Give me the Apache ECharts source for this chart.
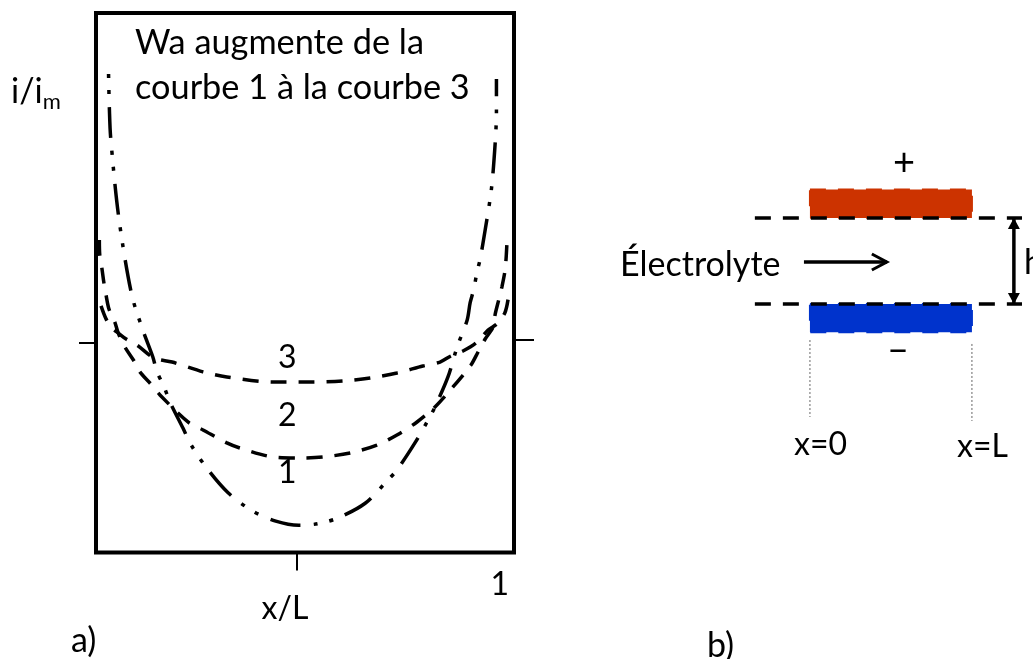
<!DOCTYPE html>
<html><head><meta charset="utf-8">
<style>html,body{margin:0;padding:0;background:#fff}#c{width:1033px;height:659px}</style>
<script src="https://cdn.jsdelivr.net/npm/echarts@6/dist/echarts.min.js"></script>
</head><body><div id="c"></div>
<script>
// Courbe 1 : [x/L, i/im]
const curve1 = [[.030,2.284],[.032,2.12],[.035,1.983],[.054,1.606],[.085,1.234],[.112,1.062],[.136,.933],[.146,.862],[.163,.790],[.177,.718],[.208,.594],[.227,.515],[.266,.400],[.316,.285],[.373,.200],[.430,.150],[.485,.130],[.530,.137],[.579,.165],[.644,.235],[.696,.341],[.720,.394],[.763,.523],[.794,.630],[.811,.695],[.842,.838],[.864,.981],[.888,1.110],[.895,1.191],[.904,1.258],[.911,1.334],[.919,1.401],[.931,1.539],[.946,1.735],[.955,1.955],[.958,2.103],[.958,2.260]];
const curve2 = [[.008,1.492],[.009,1.420],[.014,1.358],[.019,1.286],[.024,1.229],[.031,1.162],[.045,1.100],[.053,1.048],[.069,.981],[.091,.914],[.105,.862],[.129,.809],[.153,.752],[.220,.623],[.256,.585],[.313,.523],[.344,.499],[.423,.456],[.488,.451],[.543,.456],[.608,.475],[.672,.513],[.720,.561],[.768,.623],[.811,.695],[.854,.790],[.897,.895],[.914,.957],[.931,1.019],[.950,1.076],[.955,1.138],[.964,1.210],[.971,1.267],[.978,1.339],[.981,1.401],[.983,1.473]];
const curve3 = [[.012,1.177],[.024,1.115],[.038,1.072],[.053,1.048],[.072,1.019],[.098,.990],[.139,.928],[.182,.909],[.256,.862],[.313,.838],[.423,.814],[.512,.814],[.591,.819],[.656,.833],[.720,.857],[.782,.890],[.823,.909],[.849,.938],[.878,.962],[.909,1.000],[.938,1.062],[.959,1.091],[.978,1.143],[.986,1.210]];
const tickX = [0.48];
const labelX = [1];
const tickYLeft = [1];
const tickYRight = [1.014];
const yMax = 2.575;

// Schéma b) : x en unités de L, y en unités de h
const electrodes = [[0,1,1,1.33,'#CC3300'],[0,-.33,1,0,'#0033CC']];
const planeTop = [[-.34,1],[1.309,1]];
const planeBottom = [[-.34,0],[1.309,0]];
const flowArrow = [[-.037,.488,.481,.488]];
const gapArrow = [[1.259,0,1.259,1]];
const guideLeft = [[0,-.419],[0,-1.314]];
const guideRight = [[1,-.465],[1,-1.36]];

const font = 'Lato';
const T = (text, x, y, size, extra) => ({type:'text', x, y, style:Object.assign({text, fill:'#000', font:`${size||34}px ${font}`, textVerticalAlign:'middle'}, extra||{})});
const dashStyle = {color:'#000', width:3.5, type:[16,12]};
const chain = {color:'#000', width:3.5, type:[31,13,4,12,4,13], dashOffset:44};
const curve = (data, lineStyle) => ({type:'line', data, xAxisIndex:0, yAxisIndex:0, smooth:.3, showSymbol:false, symbol:'none', clip:false, lineStyle, silent:true});
const guide = data => ({type:'line', data, xAxisIndex:1, yAxisIndex:2, showSymbol:false, symbol:'none', clip:false, lineStyle:{color:'#666', width:1, type:[2,2]}, silent:true});
const plane = data => ({type:'line', data, xAxisIndex:1, yAxisIndex:2, showSymbol:false, symbol:'none', clip:false, z:5, lineStyle:{color:'#000', width:3.5, type:[16,12]}, silent:true});

const chart = echarts.init(document.getElementById('c'), null, {renderer:'canvas'});
chart.setOption({
  animation:false,
  backgroundColor:'#fff',
  grid:[
    {left:96, top:13, width:418, height:539.5, show:true, borderWidth:4, borderColor:'#000', backgroundColor:'transparent'},
    {left:600, top:140, width:433, height:350, show:false}
  ],
  xAxis:[
    {type:'value', gridIndex:0, min:0, max:1, splitLine:{show:false}, axisLine:{show:false},
     axisTick:{show:true, customValues:tickX, length:18, lineStyle:{color:'#000', width:2}},
     axisLabel:{show:true, customValues:labelX, formatter:v=>String(v), margin:16, align:'right', color:'#000', fontFamily:font, fontSize:32, padding:[0,5,0,0]},
     name:'x/L', nameLocation:'middle', nameGap:40, nameMoveOverlap:false, nameTextStyle:{color:'#000', fontFamily:font, fontSize:32, padding:[0,40,0,0]}},
    {type:'value', gridIndex:1, min:-1.296, max:1.377, show:false}
  ],
  yAxis:[
    {type:'value', gridIndex:0, min:0, max:yMax, position:'left', splitLine:{show:false}, axisLine:{show:false},
     axisTick:{show:true, customValues:tickYLeft, length:17, lineStyle:{color:'#000', width:2}}, axisLabel:{show:false}},
    {type:'value', gridIndex:0, min:0, max:yMax, position:'right', splitLine:{show:false}, axisLine:{show:false},
     axisTick:{show:true, customValues:tickYRight, length:20, lineStyle:{color:'#000', width:2}}, axisLabel:{show:false}},
    {type:'value', gridIndex:1, min:-2.163, max:1.907, show:false}
  ],
  series:[
    curve(curve1, chain), curve(curve2, dashStyle), curve(curve3, dashStyle),
    {type:'line', data:[], xAxisIndex:0, yAxisIndex:1},
    {type:'custom', xAxisIndex:1, yAxisIndex:2, data:electrodes, clip:false, z:3, silent:true,
     encode:{x:[0,2], y:[1,3]},
     renderItem:(p,api)=>{
       const a=api.coord([api.value(0),api.value(1)]), b=api.coord([api.value(2),api.value(3)]);
       const c=electrodes[p.dataIndex][4];
       return {type:'rect', shape:{x:a[0],y:b[1],width:b[0]-a[0],height:a[1]-b[1]},
         style:{fill:c, stroke:c, lineWidth:2, lineDash:[16,12]}};
     }},
    plane(planeTop), plane(planeBottom),
    guide(guideLeft), guide(guideRight),
    {type:'custom', xAxisIndex:1, yAxisIndex:2, data:flowArrow, clip:false, z:6, silent:true,
     encode:{x:[0,2], y:[1,3]},
     renderItem:(p,api)=>{
       const a=api.coord([api.value(0),api.value(1)]), b=api.coord([api.value(2),api.value(3)]);
       return {type:'group', children:[
         {type:'line', shape:{x1:a[0],y1:a[1],x2:b[0]-1,y2:b[1]}, style:{stroke:'#000',lineWidth:3.5}},
         {type:'polyline', shape:{points:[[b[0]-16,b[1]-8],[b[0]-1,b[1]],[b[0]-16,b[1]+8]]}, style:{stroke:'#000',lineWidth:3,fill:null}}
       ]};
     }},
    {type:'custom', xAxisIndex:1, yAxisIndex:2, data:gapArrow, clip:false, z:6, silent:true,
     encode:{x:[0,2], y:[1,3]},
     renderItem:(p,api)=>{
       const a=api.coord([api.value(0),api.value(1)]), b=api.coord([api.value(2),api.value(3)]);
       return {type:'group', children:[
         {type:'line', shape:{x1:a[0],y1:a[1],x2:b[0],y2:b[1]}, style:{stroke:'#000',lineWidth:3.5}},
         {type:'polygon', shape:{points:[[b[0],b[1]],[b[0]-6,b[1]+11],[b[0]+6,b[1]+11]]}, style:{fill:'#000'}},
         {type:'polygon', shape:{points:[[a[0],a[1]],[a[0]-6,a[1]-11],[a[0]+6,a[1]-11]]}, style:{fill:'#000'}}
       ]};
     }}
  ],
  graphic:{elements:[
    T('Wa augmente de la',135,43,34.3),
    T('courbe 1 à la courbe 3',135,88,34.3),
    {type:'text', x:11, y:92, style:{rich:{a:{fontFamily:font,fontSize:34,fill:'#000'},b:{fontFamily:font,fontSize:22,fill:'#000',padding:[20,0,0,0],verticalAlign:'bottom'}}, text:'{a|i/i}{b|m}', textVerticalAlign:'middle'}},
    T('3',278,358,32), T('2',278,416,32), T('1',278,473,32),
    T('a)',71,641), 
    T('b)',707,646),
    T('+',893,163,38), T('–',887,350,38),
    T('Électrolyte',620,265),
    T('x=0',794,445,32), T('x=L',957,447,32),
    T('h',1024,263)
  ]}
});
</script></body></html>
